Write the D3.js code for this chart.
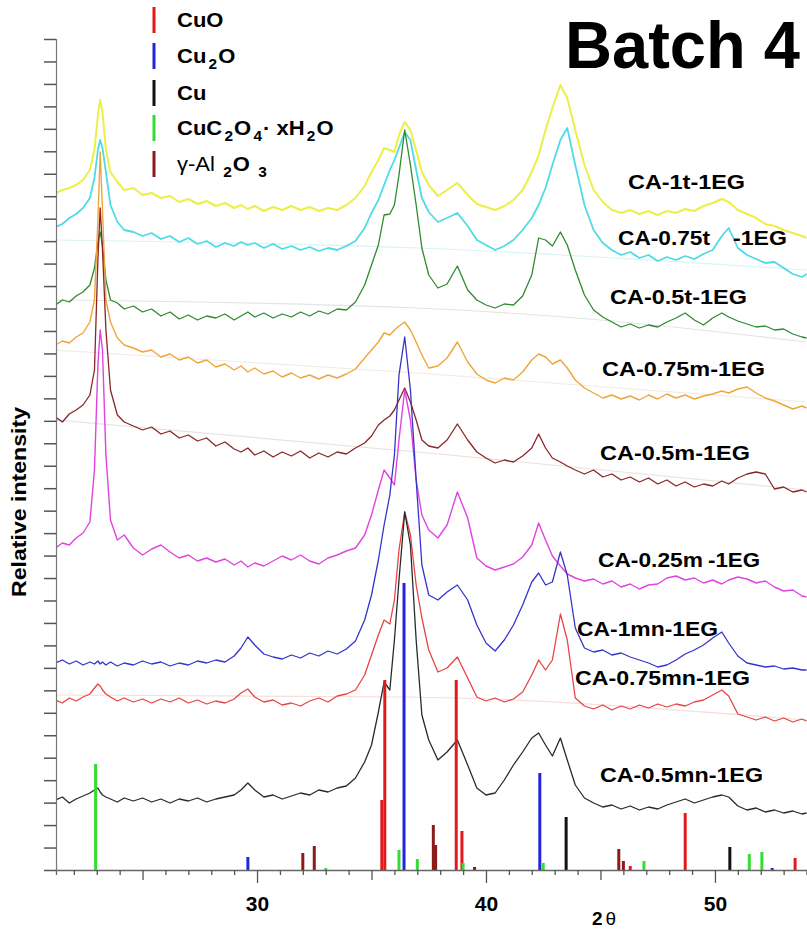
<!DOCTYPE html>
<html>
<head>
<meta charset="utf-8">
<script src="https://cdn.jsdelivr.net/npm/d3@7"></script>
<style>
  body { margin: 0; background: #fff; }
  svg { display: block; font-family: "Liberation Sans", Arial, sans-serif; }
</style>
</head>
<body>
<svg width="807" height="931"></svg>
<script>
// 2theta sampling points shared by every pattern
const twoTheta = [
  21.2, 21.5, 21.8, 22.1, 22.4, 22.7, 22.9, 23.05, 23.15, 23.25,
  23.4, 23.6, 23.9, 24.2, 24.6, 25.0, 25.4, 25.8, 26.2, 26.6,
  27.0, 27.4, 27.8, 28.2, 28.6, 29.0, 29.3, 29.6, 29.9, 30.3,
  30.7, 31.1, 31.5, 31.9, 32.3, 32.7, 33.1, 33.5, 33.9, 34.3,
  34.7, 35.0, 35.3, 35.55, 35.8, 36.0, 36.2, 36.45, 36.7, 36.95,
  37.2, 37.5, 37.9, 38.3, 38.75, 39.2, 39.6, 40.0, 40.4, 40.8,
  41.2, 41.6, 42.0, 42.3, 42.6, 42.9, 43.25, 43.55, 43.9, 44.3,
  44.7, 45.1, 45.5, 45.9, 46.3, 46.7, 47.1, 47.5, 47.9, 48.3,
  48.7, 49.1, 49.5, 49.9, 50.3, 50.6, 51.0, 51.4, 51.8, 52.2,
  52.6, 53.0, 53.4, 53.8, 54.0
];

// stacked intensities (a.u., offsets included), one value per twoTheta point
const ca1t = [
  677, 680, 682, 685, 690, 700, 720, 755, 770, 758,
  720, 698, 688, 680, 682, 675, 677, 672, 674, 668,
  671, 666, 669, 664, 667, 662, 665, 661, 664, 659,
  663, 660, 664, 660, 663, 659, 662, 660, 665, 672,
  684, 698, 710, 722, 720, 718, 735, 748, 740, 720,
  698, 685, 674, 680, 687, 675, 666, 663, 660, 664,
  670, 680, 698, 715, 740, 762, 785, 772, 740, 705,
  680, 668, 660, 657, 660, 656, 659, 655, 659, 657,
  661, 659, 664, 667, 671, 668, 660, 656, 652, 646,
  644, 640, 637, 634, 632
];
const ca075t = [
  643, 646, 652, 656, 662, 672, 692, 720, 730, 722,
  698, 665, 648, 640, 638, 634, 637, 631, 634, 628,
  632, 626, 629, 623, 627, 624, 628, 625, 627, 622,
  626, 621, 624, 620, 623, 619, 622, 620, 624, 629,
  642, 657, 670, 685, 700, 710, 722, 738, 730, 700,
  672, 658, 648, 652, 657, 644, 630, 625, 620, 624,
  630, 640, 652, 665, 682, 705, 730, 742, 705, 665,
  640, 627, 620, 615, 618, 612, 615, 609, 613, 610,
  614, 611, 616, 620, 634, 642, 622, 615, 611, 607,
  608, 602, 596, 593, 596
];
const ca05t = [
  565, 570, 568, 574, 578, 585, 602, 628, 638, 625,
  590, 570, 567, 561, 564, 558, 561, 554, 558, 551,
  555, 550, 554, 552, 556, 550, 554, 558, 553, 557,
  552, 556, 553, 558, 554, 559, 556, 561, 560, 568,
  585, 605, 625, 655, 656, 665, 695, 740, 705, 665,
  622, 595, 582, 586, 604, 580, 570, 565, 562, 566,
  565, 574, 595, 632, 630, 624, 638, 625, 600, 575,
  560, 553, 548, 543, 546, 542, 545, 543, 548, 552,
  557, 550, 545, 552, 557, 553, 549, 546, 543, 544,
  540, 541, 536, 533, 532
];
const ca075m = [
  525, 529, 527, 533, 537, 548, 570, 650, 718, 660,
  570, 548, 532, 525, 522, 518, 520, 513, 516, 510,
  513, 507, 510, 503, 506, 500, 504, 498, 502, 496,
  499, 493, 497, 492, 495, 491, 495, 492, 496, 501,
  512, 520, 528, 537, 535, 540, 544, 548, 540, 528,
  515, 502, 504, 512, 528, 508, 496, 490, 487, 492,
  490, 498, 510, 516, 513, 506, 510, 502, 490, 482,
  477, 472, 475, 471, 474, 470, 475, 471, 476, 472,
  475, 471, 474, 476, 479, 477, 481, 483, 477, 472,
  469, 465, 461, 464, 462
];
const ca05m = [
  453, 448, 456, 460, 465, 475, 500, 610, 662, 620,
  540, 480, 455, 448, 444, 440, 443, 436, 439, 432,
  435, 429, 432, 424, 428, 421, 418, 422, 415, 419,
  413, 418, 414, 419, 412, 417, 413, 418, 416, 422,
  427, 434, 445, 450, 454, 460, 470, 482, 468, 450,
  430, 424, 422, 430, 446, 430, 418, 412, 407, 410,
  408, 414, 422, 436, 422, 412, 408, 404, 400, 396,
  400, 393, 396, 390, 393, 388, 392, 386, 390, 384,
  388, 383, 386, 384, 389, 386, 392, 396, 398, 396,
  381, 383, 378, 380, 378
];
const ca025m = [
  322, 327, 325, 332, 337, 348, 400, 505, 540, 520,
  415, 350, 330, 335, 322, 315, 321, 325, 318, 312,
  315, 309, 312, 308, 311, 305, 309, 303, 307, 304,
  309, 314, 310, 315, 309, 306, 312, 315, 319, 322,
  335, 355, 380, 400, 392, 385, 430, 480, 450, 390,
  355, 340, 332, 345, 378, 352, 312, 304, 300, 303,
  306, 313, 325, 347, 330, 314, 304, 296, 292, 289,
  291, 286, 289, 283, 286, 281, 285, 286, 292, 294,
  290, 292, 287, 290, 286, 290, 293, 291, 287, 289,
  283, 279, 280, 274, 273
];
const ca1mn = [
  207, 210, 206, 209, 205, 208, 206, 209, 206, 208,
  205, 208, 204, 207, 205, 209, 206, 208, 204, 207,
  205, 209, 207, 210, 208, 214, 222, 233, 225, 216,
  213, 211, 215, 212, 217, 214, 219, 216, 221, 229,
  250, 275, 310, 345, 375, 415, 495, 533, 480, 390,
  305, 275, 270, 278, 285, 270, 245, 227, 219, 230,
  245, 265, 288, 297, 285, 288, 318, 295, 242, 222,
  218, 220, 215, 217, 213, 210, 207, 203, 205, 210,
  216, 220, 225, 232, 238, 227, 214, 207, 205, 203,
  204, 201, 202, 200, 200
];
const ca075mn = [
  170, 167, 172, 169, 173, 176, 182, 186, 184, 180,
  176, 173, 169, 172, 168, 171, 167, 171, 168, 172,
  167, 170, 166, 169, 167, 171, 177, 181, 173, 168,
  170, 165, 167, 164, 169, 172, 168, 174, 176, 180,
  195, 215, 235, 250, 246, 270, 320, 358, 335, 285,
  252, 220, 198, 202, 213, 192, 173, 169, 172, 168,
  171, 178, 195, 210, 200, 210, 256, 230, 172, 164,
  161, 165, 160, 164, 161, 165, 162, 166, 163, 166,
  164, 168, 170, 175, 180, 174, 156, 153, 150, 153,
  149, 152, 148, 151, 149
];
const ca05mn = [
  70, 73, 67, 71, 74, 77, 80, 82, 78, 75,
  73, 71, 68, 72, 69, 72, 68, 71, 67, 71,
  69, 72, 68, 71, 73, 75, 80, 87, 80, 73,
  75, 71, 74, 77, 75, 80, 78, 82, 84, 92,
  108, 125, 158, 188, 180, 230, 290, 358, 325, 230,
  155, 130, 110, 118, 130, 105, 82, 75, 77, 90,
  105, 118, 132, 137, 125, 114, 132, 110, 85, 72,
  67, 63, 65, 61, 64, 60, 63, 61, 65, 68,
  71, 67, 70, 73, 75, 73, 64, 60, 62, 58,
  60, 57, 59, 56, 57
];

// fitted backgrounds [2theta, intensity]
const bgCyan = [[21.2, 630], [37, 622], [54, 600]];
const bgGreen = [[21.2, 570], [37, 562], [45, 550], [54, 528]];
const bgOrange = [[21.2, 520], [37, 497], [54, 468]];
const bgBrown = [[21.2, 450], [37.5, 417], [54, 380]];
const bgRed = [[21.2, 175], [36.5, 173], [54, 150]];

// reference stick patterns [2theta, intensity]
const cuoPeaks = [[35.45, 70], [35.58, 190], [38.7, 190], [38.95, 39], [46.3, 4], [48.7, 57], [53.5, 12]];
const cu2oPeaks = [[29.6, 13], [36.42, 287], [42.35, 97], [52.5, 2]];
const cuPeaks = [[43.5, 53], [50.65, 23]];
const oxalatePeaks = [[22.95, 106], [33.0, 2], [36.2, 20], [37.0, 11], [39.0, 7], [42.5, 7], [46.9, 9], [51.5, 16], [52.05, 18]];
const aluminaPeaks = [[32.0, 17], [32.5, 24], [37.7, 45], [37.8, 25], [39.5, 3], [45.8, 21], [46.0, 9]];

const sampleNames = ["CA-1t-1EG", "CA-0.75t-1EG", "CA-0.5t-1EG", "CA-0.75m-1EG", "CA-0.5m-1EG",
                     "CA-0.25m-1EG", "CA-1mn-1EG", "CA-0.75mn-1EG", "CA-0.5mn-1EG"];
const xTickLabels = [30, 40, 50];

const width = 807, height = 931;
const x = d3.scaleLinear().domain([21.22, 54.02]).range([56, 807]);
const y = d3.scaleLinear().domain([0, 831]).range([870, 39]);

const samples = [
  {values: ca1t, color: "#eeee48", w: 2},
  {values: ca075t, color: "#4fdbe6", w: 1.8},
  {values: ca05t, color: "#2f8a2f", w: 1.3},
  {values: ca075m, color: "#efa53c", w: 1.4},
  {values: ca05m, color: "#8a2626", w: 1.3},
  {values: ca025m, color: "#e044e0", w: 1.4},
  {values: ca1mn, color: "#3535cc", w: 1.3},
  {values: ca075mn, color: "#e84444", w: 1.3},
  {values: ca05mn, color: "#2a2a2a", w: 1.3}
];
const backgrounds = [
  {values: bgCyan, color: "#daf3f5"},
  {values: bgGreen, color: "#e2e6e2"},
  {values: bgOrange, color: "#f3ebe0"},
  {values: bgBrown, color: "#ebe2e2"},
  {values: bgRed, color: "#f5dede"}
];
const phases = [
  {peaks: cuoPeaks, color: "#e41a1a"},
  {peaks: cu2oPeaks, color: "#2323e0"},
  {peaks: cuPeaks, color: "#111111"},
  {peaks: oxalatePeaks, color: "#33dd33"},
  {peaks: aluminaPeaks, color: "#8b1a1a"}
];

// label placement: [left x, baseline y, text width]
const labelPos = [[628, 189, 117], [618, 245, 169], [610, 304, 137], [602, 376, 163], [600, 460, 150],
                  [598, 567, 162], [577, 636, 141], [575, 685, 175], [600, 782, 163]];

const svg = d3.select("svg")
    .attr("viewBox", [0, 0, width, height]);

svg.append("defs").append("clipPath")
    .attr("id", "plot-clip")
    .append("rect")
    .attr("x", 56).attr("y", 0)
    .attr("width", 751).attr("height", 870);

const plot = svg.append("g").attr("clip-path", "url(#plot-clip)");

// faint background fits
plot.append("g")
    .attr("fill", "none")
    .selectAll("path")
    .data(backgrounds)
    .join("path")
    .attr("stroke", d => d.color)
    .attr("stroke-width", 1.2)
    .attr("d", d => d3.line().curve(d3.curveMonotoneX)
        .x(p => x(p[0])).y(p => y(p[1]))(d.values));

const line = d3.line()
    .x((d, i) => x(twoTheta[i]))
    .y(d => y(d));

plot.append("g")
    .attr("fill", "none")
    .attr("stroke-linejoin", "round")
    .selectAll("path")
    .data(samples)
    .join("path")
    .attr("stroke", d => d.color)
    .attr("stroke-width", d => d.w)
    .attr("d", d => line(d.values));

// reference sticks
phases.forEach(ph => {
    plot.append("g")
        .selectAll("line")
        .data(ph.peaks)
        .join("line")
        .attr("x1", d => x(d[0])).attr("x2", d => x(d[0]))
        .attr("y1", y(0)).attr("y2", d => y(d[1]))
        .attr("stroke", ph.color)
        .attr("stroke-width", 3);
});

// axes
const xAxis = d3.axisBottom(x)
    .tickValues(d3.range(22, 55))
    .tickSizeOuter(0)
    .tickSize(5)
    .tickFormat(d => xTickLabels.includes(d) ? d : "");

const gx = svg.append("g")
    .attr("transform", `translate(0,${y(0)})`)
    .call(xAxis);
gx.select(".domain").attr("stroke", "#666").attr("stroke-width", 1.3);
gx.selectAll(".tick line")
    .attr("stroke", "#555")
    .attr("stroke-width", 1.3)
    .attr("y2", d => d % 10 === 0 ? 13 : d % 5 === 0 ? 10 : 5);
gx.selectAll(".tick text")
    .attr("y", 26)
    .attr("fill", "#000")
    .style("font", "bold 21px 'Liberation Sans', Arial, sans-serif");

const yAxis = d3.axisLeft(y)
    .tickValues(d3.range(38).map(i => i * 831 / 37))
    .tickSizeOuter(0)
    .tickSize(12)
    .tickFormat("");
const gy = svg.append("g")
    .attr("transform", "translate(56,0)")
    .call(yAxis);
gy.select(".domain").attr("stroke", "#777").attr("stroke-width", 1.2);
gy.selectAll(".tick line").attr("stroke", "#555").attr("stroke-width", 1.5);

// axis titles
svg.append("text")
    .attr("transform", "translate(26,502) rotate(-90)")
    .attr("text-anchor", "middle")
    .attr("textLength", 190)
    .attr("lengthAdjust", "spacingAndGlyphs")
    .style("font", "bold 20px 'Liberation Sans', Arial, sans-serif")
    .text("Relative intensity");

const xTitle = svg.append("text")
    .attr("x", 592).attr("y", 925)
    .style("font", "bold 19px 'Liberation Sans', Arial, sans-serif");
xTitle.append("tspan").text("2");
xTitle.append("tspan").attr("dx", 3).style("font-weight", "normal").text("θ");

// sample labels
sampleNames.forEach((name, i) => {
    const [lx, ly, lw] = labelPos[i];
    const t = svg.append("text")
        .attr("y", ly)
        .style("font", "bold 20px 'Liberation Sans', Arial, sans-serif");
    if (name === "CA-0.75t-1EG" || name === "CA-0.25m-1EG") {
        // these two are printed with a gap before "-1EG"
        const head = name.replace("-1EG", "");
        const headW = name === "CA-0.75t-1EG" ? 92 : 105;
        const tailW = name === "CA-0.75t-1EG" ? 54 : 52;
        t.attr("x", lx).attr("textLength", headW).attr("lengthAdjust", "spacingAndGlyphs").text(head);
        svg.append("text")
            .attr("x", lx + lw - tailW)
            .attr("y", ly)
            .attr("textLength", tailW)
            .attr("lengthAdjust", "spacingAndGlyphs")
            .style("font", "bold 20px 'Liberation Sans', Arial, sans-serif")
            .text("-1EG");
    } else {
        t.attr("x", lx).attr("textLength", lw).attr("lengthAdjust", "spacingAndGlyphs").text(name);
    }
});

// legend
const legendParts = [
    [["CuO"]],
    [["Cu"], ["2", "sub"], ["O"]],
    [["Cu"]],
    [["CuC"], ["2", "sub"], ["O"], ["4", "sub"], ["·  x"], ["H"], ["2", "sub"], ["O"]],
    [["γ-Al "], ["2", "sub"], ["O "], ["3", "sub"]]
];
const legendY = [20, 56, 93, 128, 164];

const legend = svg.append("g");
legendParts.forEach((parts, i) => {
    legend.append("line")
        .attr("x1", 154).attr("x2", 154)
        .attr("y1", legendY[i] - 13).attr("y2", legendY[i] + 13)
        .attr("stroke", phases[i].color)
        .attr("stroke-width", 3);
    const t = legend.append("text")
        .attr("transform", `translate(177,${legendY[i] + 7}) scale(1.1,1)`)
        .style("font", "bold 20px 'Liberation Sans', Arial, sans-serif");
    let down = false;
    parts.forEach(([txt, kind]) => {
        const s = t.append("tspan").text(txt);
        if (kind === "sub") {
            s.attr("dy", 6).attr("dx", 2).style("font-size", "14px");
            down = true;
        } else if (down) {
            s.attr("dy", -6).attr("dx", 1);
            down = false;
        }
        if (txt.startsWith("γ")) s.style("font-weight", "normal");
    });
});

// title
svg.append("text")
    .attr("x", 565).attr("y", 68)
    .attr("textLength", 235)
    .attr("lengthAdjust", "spacingAndGlyphs")
    .style("font", "bold 66px 'Liberation Sans', Arial, sans-serif")
    .text("Batch 4");
</script>
</body>
</html>
